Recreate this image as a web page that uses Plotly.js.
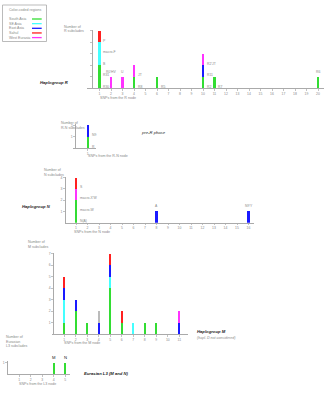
<!DOCTYPE html>
<html><head><meta charset="utf-8">
<script src="https://cdn.plot.ly/plotly-3.0.1.min.js"></script>
<style>html,body{margin:0;padding:0;background:#fff}#c{width:328px;height:400px}</style>
</head><body><div id="c"></div>
<script>
// ---------- DATA ----------
const legendNames = ['South Asia','SE Asia','East Asia','Sahul','West Eurasia'];
const stackOrder = ['South Asia','SE Asia','East Asia','West Eurasia','Sahul','Other'];

// Haplogroup R (SNPs from the R node 1..20)
const R_x = [1,2,3,4,5,6,7,8,9,10,11,12,13,14,15,16,17,18,19,20];
const R_south = [2,0,0,1,0,1,0,0,0,1,1,0,0,0,0,0,0,0,0,1];
const R_se    = [2,0,0,0,0,0,0,0,0,0,0,0,0,0,0,0,0,0,0,0];
const R_east  = [0,0,0,0,0,0,0,0,0,1,0,0,0,0,0,0,0,0,0,0];
const R_west  = [0,1,1,1,0,0,0,0,0,1,0,0,0,0,0,0,0,0,0,0];
const R_sahul = [1,0,0,0,0,0,0,0,0,0,0,0,0,0,0,0,0,0,0,0];
const R_side = [[1,0,'R30'],[1,1,'R31'],[1,2,'B'],[1,3,'macro-F'],[1,4,'P'],[4,0,'R8'],[4,1,'JT'],[6,0,'R5'],[10,0,'R2'],[10,1,'R11'],[10,2,'R2\'JT'],[11,0,'R7']];
const R_top  = [[2,'R0\'HV'],[3,'U'],[20,'R6']];

// pre-R phase
const P_x = [1];
const P_south = [1];
const P_east  = [1];
const P_side = [[1,0,'R'],[1,1,'N9']];

// Haplogroup N (1..16)
const N_x = [1,2,3,4,5,6,7,8,9,10,11,12,13,14,15,16];
const N_south = [2,0,0,0,0,0,0,0,0,0,0,0,0,0,0,0];
const N_east  = [0,0,0,0,0,0,0,1,0,0,0,0,0,0,0,1];
const N_west  = [1,0,0,0,0,0,0,0,0,0,0,0,0,0,0,0];
const N_sahul = [1,0,0,0,0,0,0,0,0,0,0,0,0,0,0,0];
const N_side = [[1,0,'N(A)'],[1,1,'macro-W'],[1,2,'macro-X\'W'],[1,3,'S']];
const N_top  = [[8,'A'],[16,'N9\'Y']];

// Haplogroup M (1..11)
const M_x = [1,2,3,4,5,6,7,8,9,10,11];
const M_south = [1,2,1,0,4,1,0,1,1,0,0];
const M_se    = [2,0,0,0,1,0,1,0,0,0,0];
const M_east  = [1,1,0,1,1,0,0,0,0,0,1];
const M_west  = [0,0,0,0,0,0,0,0,0,0,1];
const M_sahul = [1,0,0,0,1,1,0,0,0,0,0];
const M_other = [0,0,0,1,0,0,0,0,0,0,0];

// Eurasian L3 (1..5)
const L_x = [1,2,3,4,5];
const L_south = [0,0,0,1,1];
const L_top = [[4,'M'],[5,'N']];

// ---------- STYLE ----------
const COL = {'South Asia':'#33dd33','SE Asia':'#44ffff','East Asia':'#1a1aff','Sahul':'#ff2020','West Eurasia':'#ff33ff','Other':'#bbbbbb'};
const W = 328, H = 400, U = 11.5;
const GR = '#888', FONT = 'Liberation Sans, Arial, sans-serif';
const px = v => v / W, py = v => 1 - v / H;

// panel geometry in pixels
const panels = [
  {id:'', x0:86.7, x1:324, x1at:99.5, y0:29.5, y1:88.3, yPos:91.5, unit:11.5, n:20, ylab:false},
  {id:'2', x0:73.3, x1:96, x1at:87.7, y0:124.3, y1:148.3, yPos:75.3, unit:11.5, n:1, ylab:true, yt:[1,2]},
  {id:'3', x0:65, x1:254, x1at:76, y0:177.3, y1:222.7, yPos:65, unit:11.3, n:16, ylab:true, yt:[1,2,3,4]},
  {id:'4', x0:51.7, x1:188, x1at:64.3, y0:253, y1:334, yPos:53.3, unit:11.5, n:11, ylab:true, yt:[1,2,3,4,5,6,7]},
  {id:'5', x0:7.3, x1:70, x1at:19.3, y0:360.7, y1:374.3, yPos:7.3, unit:11.5, n:5, ylab:true, yt:[1]}
];

const layout = {
  width: W, height: H, margin:{l:0,r:0,t:0,b:0},
  paper_bgcolor:'#fff', plot_bgcolor:'rgba(0,0,0,0)',
  showlegend:false, barmode:'stack', bargap:0,
  font:{family:FONT, size:4, color:GR},
  annotations:[], shapes:[]
};

panels.forEach(p => {
  const xr = [1 - (p.x1at - p.x0)/U, 1 + (p.x1 - p.x1at)/U];
  const yr = [0, (p.y1 - p.y0)/p.unit];
  const tv = []; for (let i=1;i<=p.n;i++) tv.push(i);
  layout['xaxis'+p.id] = {domain:[px(p.x0), px(p.x1)], range:xr, anchor:'y'+p.id,
    tickvals:tv, ticktext:tv.map(String), ticks:'outside', ticklen:1.5, tickwidth:0.6, tickcolor:'#999',
    showline:true, linecolor:'#aaa', linewidth:1, showgrid:false, zeroline:false,
    tickfont:{size:3.4, color:GR, family:FONT}, fixedrange:true};
  layout['yaxis'+p.id] = {domain:[py(p.y1), py(p.y0)], range:yr, anchor:'free', position:px(p.yPos),
    tickvals:p.ylab ? p.yt : [1,2,3,4,5], showticklabels:p.ylab, ticks:'outside', ticklen:2, tickwidth:0.6, tickcolor:'#999',
    showline:true, linecolor:'#aaa', linewidth:1, showgrid:false, zeroline:false,
    tickfont:{size:3.4, color:GR, family:FONT}, fixedrange:true};
});

const traces = [];
function addBars(id, xs, series) {
  stackOrder.forEach(r => {
    if (!series[r]) return;
    traces.push({type:'bar', x:xs, y:series[r], width:0.2, xaxis:'x'+id, yaxis:'y'+id,
      marker:{color:COL[r], line:{width:0}}, hoverinfo:'skip'});
  });
}
addBars('', R_x, {'South Asia':R_south,'SE Asia':R_se,'East Asia':R_east,'West Eurasia':R_west,'Sahul':R_sahul});
addBars('2', P_x, {'South Asia':P_south,'East Asia':P_east});
addBars('3', N_x, {'South Asia':N_south,'East Asia':N_east,'West Eurasia':N_west,'Sahul':N_sahul});
addBars('4', M_x, {'South Asia':M_south,'SE Asia':M_se,'East Asia':M_east,'West Eurasia':M_west,'Sahul':M_sahul,'Other':M_other});
addBars('5', L_x, {'South Asia':L_south});

function totals(xs, list) { return xs.map((_,i)=>list.reduce((s,a)=>s+a[i],0)); }
function sideLabels(id, labs) {
  labs.forEach(([x,lvl,t]) => layout.annotations.push({xref:'x'+id, yref:'y'+id, x:x+0.17, y:lvl+0.15,
    text:t, showarrow:false, xanchor:'left', yanchor:'middle', font:{size:3.4, color:GR}}));
}
function topLabels(id, xs, tot, labs, col, size) {
  labs.forEach(([x,t]) => layout.annotations.push({xref:'x'+id, yref:'y'+id, x:x, y:tot[xs.indexOf(x)]+0.1,
    text:t, showarrow:false, xanchor:'center', yanchor:'bottom', font:{size:size||3.4, color:col||GR}}));
}
sideLabels('', R_side);
topLabels('', R_x, totals(R_x,[R_south,R_se,R_east,R_west,R_sahul]), R_top);
sideLabels('2', P_side);
sideLabels('3', N_side);
topLabels('3', N_x, totals(N_x,[N_south,N_east,N_west,N_sahul]), N_top);
topLabels('5', L_x, L_south, L_top, '#222', 4.2);

// text blocks (paper coords)
function txt(x, y, t, o) {
  o = o || {};
  layout.annotations.push({xref:'paper', yref:'paper', x:px(x), y:py(y), text:t, showarrow:false,
    xanchor:o.xa||'left', yanchor:'middle', align:'left',
    font:{size:o.size||3.6, color:o.color||GR, family:FONT}});
}
// legend
layout.shapes.push({type:'rect', xref:'paper', yref:'paper', x0:px(2.5), x1:px(46.5), y0:py(41.5), y1:py(5),
  line:{color:'#aaa', width:0.8}, fillcolor:'rgba(0,0,0,0)'});
txt(7, 10, 'Color-coded regions');
legendNames.forEach((n,i) => {
  const y = 19 + i*4.65;
  txt(7, y, n);
  layout.shapes.push({type:'line', xref:'paper', yref:'paper', x0:px(32), x1:px(41.7), y0:py(y), y1:py(y),
    line:{color:COL[n], width:1.3}});
});
// axis titles & panel titles
txt(62, 26.7, 'Number of');
txt(62, 31.3, 'R subclades');
txt(98, 98.5, 'SNPs from the R node');
txt(38, 82.5, '<i><b>Haplogroup R</b></i>', {color:'#222', size:4.2});

txt(59, 122.7, 'Number of');
txt(59, 127.7, 'R-N subclades');
txt(86, 156, 'SNPs from the R-N node');
txt(139, 132.3, '<i>pre-R phase</i>', {color:'#222', size:4.2});

txt(42, 170, 'Number of');
txt(42, 174.5, 'N subclades');
txt(72, 232, 'SNPs from the N node');
txt(20, 207, '<i><b>Haplogroup N</b></i>', {color:'#222', size:4.2});

txt(26, 242, 'Number of');
txt(26, 247, 'M subclades');
txt(62, 342.5, 'SNPs from the M node');
txt(195, 331.7, '<i><b>Haplogroup M</b></i>', {color:'#222', size:4.2});
txt(195, 337.7, '<i>(hapl. D not considered)</i>');

txt(4, 337, 'Number of');
txt(4, 341.7, 'Eurasian');
txt(4, 346.3, 'L3 subclades');
txt(17, 383.5, 'SNPs from the L3 node');
txt(81.7, 373, '<i><b>Eurasian L3 (M and N)</b></i>', {color:'#222', size:4.2});

Plotly.newPlot('c', traces, layout, {staticPlot:true, displayModeBar:false});
</script></body></html>
